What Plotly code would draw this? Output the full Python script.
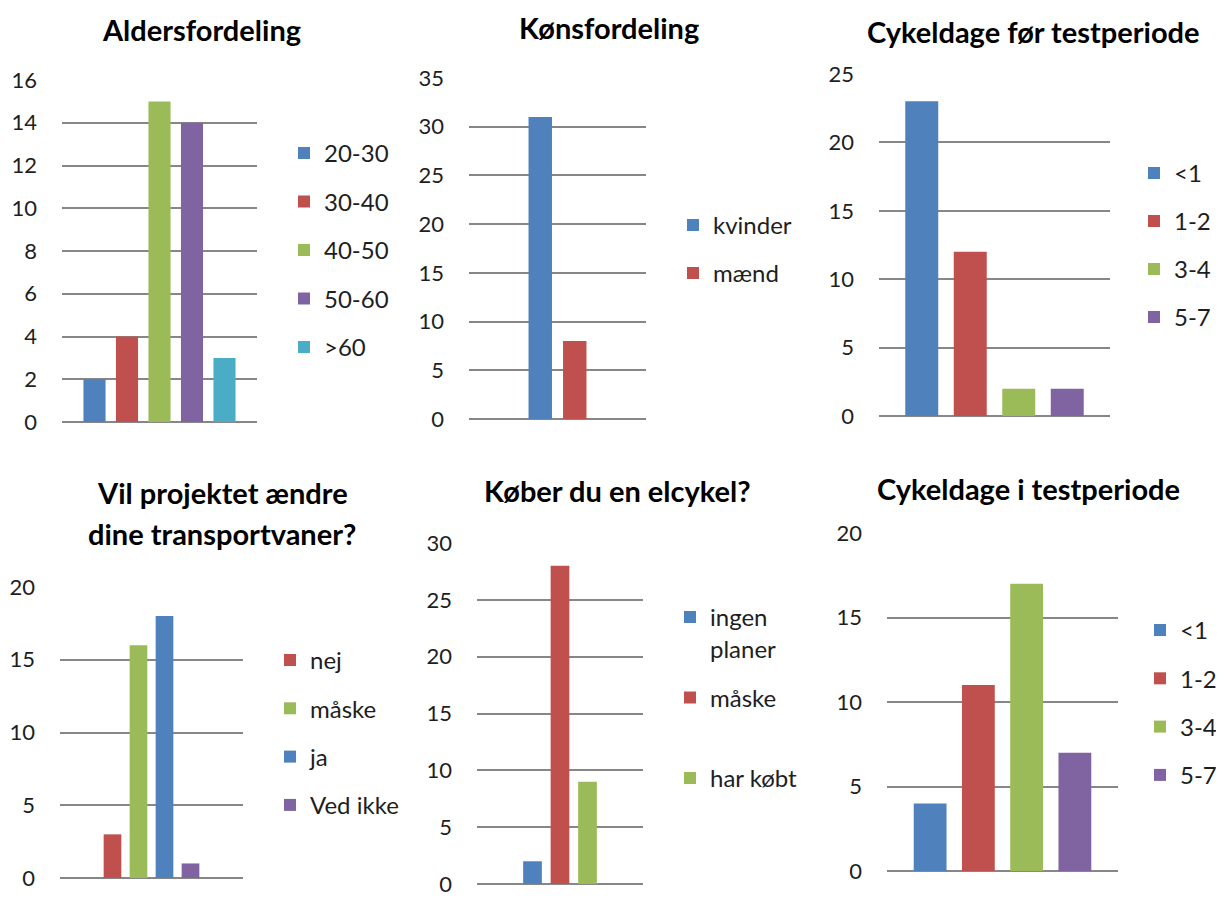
import plotly.graph_objects as go

# page is 1224x900; the browser body keeps an 8px margin round the figure
PAGE_W, PAGE_H, BODY = 1224, 900, 8
W, H = PAGE_W - 2 * BODY, PAGE_H - BODY

# ---------------- data ----------------
alder_cats = ["20-30", "30-40", "40-50", "50-60", ">60"]
alder_vals = [2, 4, 15, 14, 3]

koen_cats = ["kvinder", "mænd"]
koen_vals = [31, 8]

foer_cats = ["<1", "1-2", "3-4", "5-7"]
foer_vals = [23, 12, 2, 2]

vaner_cats = ["nej", "måske", "ja", "Ved ikke"]
vaner_vals = [3, 16, 18, 1]

elcykel_cats = ["ingen<br>planer", "måske<br>\u00a0", "har købt<br>\u00a0"]
elcykel_vals = [2, 28, 9]

testp_cats = ["<1", "1-2", "3-4", "5-7"]
testp_vals = [4, 11, 17, 7]

titles = [
    ["Aldersfordeling"],
    ["Kønsfordeling"],
    ["Cykeldage før testperiode"],
    ["Vil projektet ændre", "dine transportvaner?"],
    ["Køber du en elcykel?"],
    ["Cykeldage i testperiode"],
]

# ---------------- styles / layout (page pixel positions) ----------------
BLUE, RED, GREEN, PURPLE, AQUA = "#4F81BD", "#C0504D", "#9BBB59", "#8064A2", "#4BACC6"
FONT = "Lato"
TXT = "#1e1e1e"
GRID = "#878787"

panels = [
    dict(cats=alder_cats, vals=alder_vals, colors=[BLUE, RED, GREEN, PURPLE, AQUA],
         ymax=16, dtick=2, box=(62, 257, 80, 422), group=162.5,
         tx=202, ty=[30], leg=(284, 153), pitch=48.5),
    dict(cats=koen_cats, vals=koen_vals, colors=[BLUE, RED],
         ymax=35, dtick=5, box=(469, 646, 78, 419), group=69,
         tx=609, ty=[28], leg=(673, 225), pitch=48),
    dict(cats=foer_cats, vals=foer_vals, colors=[BLUE, RED, GREEN, PURPLE],
         ymax=25, dtick=5, box=(879, 1110, 74, 416), group=194,
         tx=1033, ty=[31], leg=(1134, 173), pitch=48),
    dict(cats=vaner_cats, vals=vaner_vals, colors=[RED, GREEN, BLUE, PURPLE],
         ymax=20, dtick=5, box=(60, 243, 587, 878), group=104,
         tx=222, ty=[492, 533], leg=(270, 660), pitch=48.3),
    dict(cats=elcykel_cats, vals=elcykel_vals, colors=[BLUE, RED, GREEN],
         ymax=30, dtick=5, box=(477, 643, 543, 884), group=82.5,
         tx=617, ty=[491], leg=(670, 617), pitch=80.5, two=True),
    dict(cats=testp_cats, vals=testp_vals, colors=[BLUE, RED, GREEN, PURPLE],
         ymax=20, dtick=5, box=(887, 1118, 533, 871), group=193,
         tx=1028, ty=[488], leg=(1140, 630), pitch=48.3),
]

LEG_FONT = 24
LINE_H = LEG_FONT * 1.3


def fx(px):
    return (px - BODY) / W


def fy(py):
    return 1 - (py - BODY) / H


fig = go.Figure()
annotations = []
layout_extra = {}

for i, p in enumerate(panels):
    n = i + 1
    xa = "x" if n == 1 else f"x{n}"
    ya = "y" if n == 1 else f"y{n}"
    legname = "legend" if n == 1 else f"legend{n}"
    for cat, val, col in zip(p["cats"], p["vals"], p["colors"]):
        fig.add_trace(go.Bar(
            x=[titles[i][0]], y=[val], name=cat, marker_color=col,
            marker_line_width=0, xaxis=xa, yaxis=ya, legend=legname,
            legendgroup=f"p{n}_{cat}", hoverinfo="name+y",
        ))
    x0, x1, y0, y1 = p["box"]
    span = (x1 - x0) / p["group"]
    layout_extra["xaxis" if n == 1 else f"xaxis{n}"] = dict(
        domain=[fx(x0), fx(x1)], anchor=ya, type="category", automargin=False,
        range=[-span / 2, span / 2], showticklabels=False, showgrid=False,
        zeroline=False, showline=False, ticks="", fixedrange=True)
    layout_extra["yaxis" if n == 1 else f"yaxis{n}"] = dict(
        domain=[fy(y1), fy(y0)], anchor=xa, range=[0, p["ymax"]], automargin=False,
        dtick=p["dtick"], tick0=0, showgrid=True, gridcolor=GRID, gridwidth=1.5,
        zeroline=True, zerolinecolor=GRID, zerolinewidth=1.5, showline=False,
        ticks="", ticklabelstandoff=24, ticklabeloverflow="allow", fixedrange=True,
        tickfont=dict(family=FONT, size=22, color=TXT))
    # legend
    lx, ly = p["leg"]
    two = p.get("two", False)
    item_h = (2 if two else 1) * LINE_H + 3
    gap = p["pitch"] - item_h
    top = ly - 5 - item_h / 2 + (LINE_H / 2 if two else 0)
    layout_extra[legname] = dict(
        x=fx(lx), y=fy(top), xanchor="left", yanchor="top",
        bgcolor="rgba(0,0,0,0)", borderwidth=0, tracegroupgap=gap,
        valign="top" if two else "middle", traceorder="grouped",
        font=dict(family=FONT, size=LEG_FONT, color=TXT))
    # title
    for line, ty in zip(titles[i], p["ty"]):
        annotations.append(dict(
            text=f"<b>{line}</b>", x=fx(p["tx"]), y=fy(ty), xref="paper",
            yref="paper", xanchor="center", yanchor="middle", showarrow=False,
            font=dict(family=FONT, size=29, color="#000000")))

fig.update_layout(
    width=W, height=H, autosize=False,
    margin=dict(l=0, r=0, t=0, b=0, pad=0, autoexpand=False),
    paper_bgcolor="white", plot_bgcolor="white",
    barmode="group", bargap=0, bargroupgap=0.32,
    showlegend=True, annotations=annotations,
    **layout_extra,
)

fig.write_html("out.html")
